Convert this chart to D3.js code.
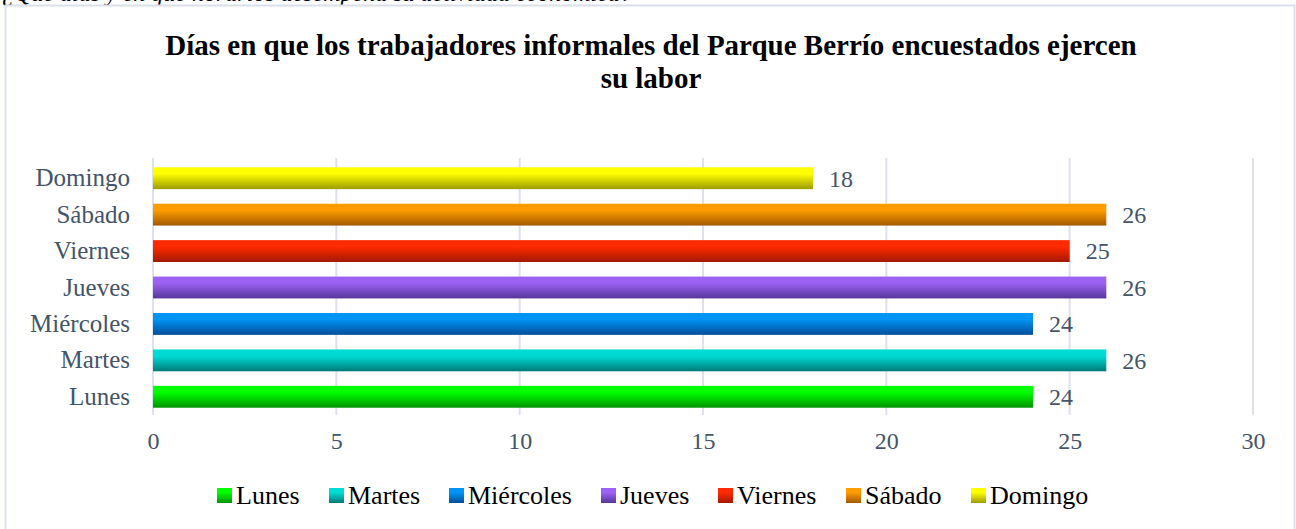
<!DOCTYPE html>
<html>
<head>
<meta charset="utf-8">
<script src="https://cdn.jsdelivr.net/npm/d3@7"></script>
<style>
  body { margin: 0; background: #fff; }
  svg { display: block; }
</style>
</head>
<body>
<div id="chart"></div>
<script>
'use strict'

// data
const days = ['Lunes', 'Martes', 'Miércoles', 'Jueves', 'Viernes', 'Sábado', 'Domingo']
const counts = [24, 26, 24, 26, 25, 26, 18]
const xTicks = [0, 5, 10, 15, 20, 25, 30]
const topColors = ['#00ff00', '#00dcd4', '#0094f4', '#9c62f2', '#ff2a00', '#ff9c00', '#ffff00']
const bottomColors = ['#009400', '#007a78', '#004e98', '#57369c', '#a41800', '#a25800', '#9c9c00']

const W = 1296
const H = 529
const margin = { left: 153, right: 43, top: 160, bottom: 114 }
const serif = '"Liberation Serif", "Times New Roman", serif'
const labelGray = '#44546a'

const svg = d3.select('#chart').append('svg')
  .attr('width', W)
  .attr('height', H)

const defs = svg.append('defs')
days.forEach((d, i) => {
  const g = defs.append('linearGradient')
    .attr('id', 'grad' + i)
    .attr('x1', 0).attr('y1', 0).attr('x2', 0).attr('y2', 1)
  g.append('stop').attr('offset', '0%').attr('stop-color', topColors[i])
  g.append('stop').attr('offset', '30%').attr('stop-color', topColors[i])
  g.append('stop').attr('offset', '100%').attr('stop-color', bottomColors[i])
})

// caption line of the page, cut by the top edge as in the source
svg.append('text')
  .attr('x', 2)
  .attr('y', 1)
  .style('font-family', serif)
  .style('font-style', 'italic')
  .style('font-size', '24px')
  .attr('fill', '#000')
  .text('¿Qué días y en qué horarios desempeña su actividad económica?')

// chart frame
svg.append('rect')
  .attr('x', 5.5)
  .attr('y', 5.5)
  .attr('width', 1289)
  .attr('height', 540)
  .attr('fill', 'none')
  .attr('stroke', '#dadfe8')
  .attr('stroke-width', 2)

// title
const title = svg.append('text')
  .attr('text-anchor', 'middle')
  .style('font-family', serif)
  .style('font-weight', 'bold')
  .style('font-size', '29px')
  .attr('fill', '#000')
title.append('tspan').attr('x', 651).attr('y', 55)
  .text('Días en que los trabajadores informales del Parque Berrío encuestados ejercen')
title.append('tspan').attr('x', 651).attr('y', 88)
  .text('su labor')

const x = d3.scaleLinear()
  .domain([0, 30])
  .range([margin.left, W - margin.right])

const y = d3.scaleBand()
  .domain(days.slice().reverse())
  .range([margin.top, H - margin.bottom])
  .paddingInner(0.4)
  .paddingOuter(0.2)

// vertical gridlines
svg.append('g')
  .selectAll('line')
  .data(xTicks)
  .join('line')
  .attr('x1', d => x(d))
  .attr('x2', d => x(d))
  .attr('y1', margin.top - 2)
  .attr('y2', H - margin.bottom)
  .attr('stroke', '#dde2ea')
  .attr('stroke-width', 2)

// x axis labels
const xAxis = svg.append('g')
  .attr('transform', 'translate(0,' + (H - margin.bottom) + ')')
  .call(d3.axisBottom(x).tickValues(xTicks).tickSize(0).tickPadding(17))
xAxis.select('.domain').remove()
xAxis.selectAll('text')
  .style('font-family', serif)
  .style('font-size', '24px')
  .attr('fill', labelGray)

// y axis labels
const yAxis = svg.append('g')
  .attr('transform', 'translate(' + (margin.left - 23) + ',0)')
  .call(d3.axisLeft(y).tickSize(0).tickPadding(0))
yAxis.select('.domain').remove()
yAxis.selectAll('text')
  .style('font-family', serif)
  .style('font-size', '25px')
  .attr('fill', labelGray)

// bars
svg.append('g')
  .selectAll('rect')
  .data(days)
  .join('rect')
  .attr('x', x(0))
  .attr('y', d => y(d))
  .attr('width', (d, i) => x(counts[i]) - x(0))
  .attr('height', y.bandwidth())
  .attr('fill', (d, i) => 'url(#grad' + i + ')')

// value labels
svg.append('g')
  .selectAll('text')
  .data(days)
  .join('text')
  .attr('x', (d, i) => x(counts[i]) + 16)
  .attr('y', d => y(d) + y.bandwidth() / 2)
  .attr('dy', '0.35em')
  .style('font-family', serif)
  .style('font-size', '24px')
  .attr('fill', labelGray)
  .text((d, i) => counts[i])

// legend
const legendX = [217, 329, 449, 601, 718, 846, 971]
const legend = svg.append('g')
  .selectAll('g')
  .data(days)
  .join('g')
  .attr('transform', (d, i) => 'translate(' + legendX[i] + ',488)')
legend.append('rect')
  .attr('width', 15)
  .attr('height', 15)
  .attr('fill', (d, i) => 'url(#grad' + i + ')')
legend.append('text')
  .attr('x', 19)
  .attr('y', 16)
  .style('font-family', serif)
  .style('font-size', '26px')
  .attr('fill', '#000')
  .text(d => d)
</script>
</body>
</html>
